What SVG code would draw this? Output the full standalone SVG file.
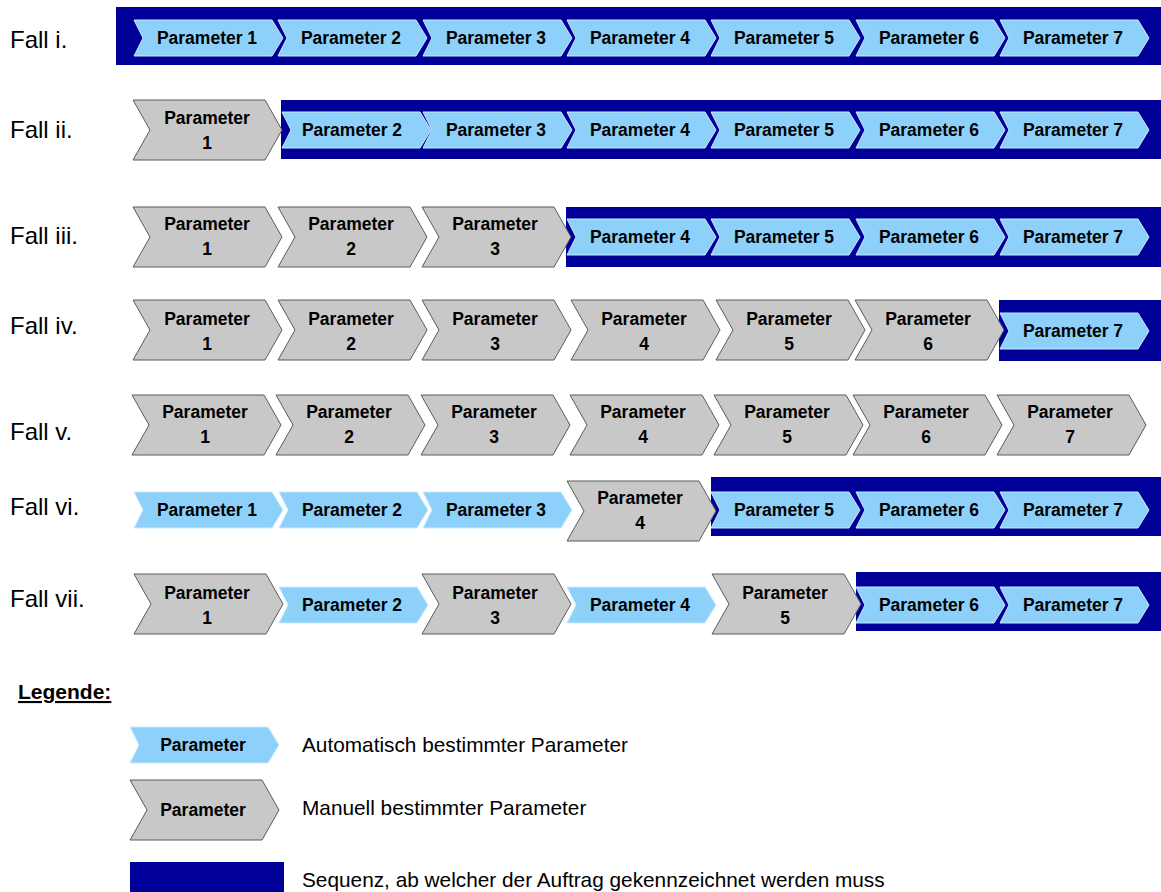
<svg xmlns="http://www.w3.org/2000/svg" xmlns:xlink="http://www.w3.org/1999/xlink" width="1161" height="892" viewBox="0 0 1161 892">
<style>
.bar{fill:#000099}
.cb{fill:#8DD1FA;stroke:#C9EBFF;stroke-width:1}
.cg{fill:#C8C8C8;stroke:#5A5A5A;stroke-width:1}
.t{font-family:"Liberation Sans",Arial,sans-serif;font-weight:bold;font-size:17.5px;fill:#000;text-anchor:middle}
.fall{font-family:"Liberation Sans",Arial,sans-serif;font-size:24px;fill:#000}
.leg{font-family:"Liberation Sans",Arial,sans-serif;font-size:20.8px;fill:#000}
.legh{font-family:"Liberation Sans",Arial,sans-serif;font-size:21px;font-weight:bold;fill:#000;text-decoration:underline}
</style>
<defs>
<path id="pb" d="M0 0 H138 L149 18 L138 36 H0 L9 18 Z"/>
<path id="pg" d="M0 0 H132 L149 30 L132 60 H0 L17 30 Z"/>
</defs>
<rect width="1161" height="892" fill="#fff"/>

<g id="labels">
<text class="fall" x="10" y="48">Fall i.</text>
<text class="fall" x="10" y="138">Fall ii.</text>
<text class="fall" x="10" y="244">Fall iii.</text>
<text class="fall" x="10" y="334">Fall iv.</text>
<text class="fall" x="10" y="440">Fall v.</text>
<text class="fall" x="10" y="515">Fall vi.</text>
<text class="fall" x="10" y="607">Fall vii.</text>
</g>

<g id="bars">
<rect class="bar" x="116" y="7" width="1045" height="58"/>
<rect class="bar" x="281" y="100" width="880" height="59"/>
<rect class="bar" x="566" y="207" width="595" height="60"/>
<rect class="bar" x="999" y="300" width="162" height="61"/>
<rect class="bar" x="711" y="477" width="450" height="59"/>
<rect class="bar" x="856" y="572" width="305" height="59"/>
</g>

<g id="connectors"></g>

<!-- Row i -->
<g id="r1p1"><use href="#pb" class="cb" x="134" y="20"/><text class="t" x="207" y="44">Parameter 1</text></g>
<g id="r1p2"><use href="#pb" class="cb" x="278" y="20"/><text class="t" x="351" y="44">Parameter 2</text></g>
<g id="r1p3"><use href="#pb" class="cb" x="423" y="20"/><text class="t" x="496" y="44">Parameter 3</text></g>
<g id="r1p4"><use href="#pb" class="cb" x="567" y="20"/><text class="t" x="640" y="44">Parameter 4</text></g>
<g id="r1p5"><use href="#pb" class="cb" x="711" y="20"/><text class="t" x="784" y="44">Parameter 5</text></g>
<g id="r1p6"><use href="#pb" class="cb" x="856" y="20"/><text class="t" x="929" y="44">Parameter 6</text></g>
<g id="r1p7"><use href="#pb" class="cb" x="1000" y="20"/><text class="t" x="1073" y="44">Parameter 7</text></g>

<!-- Row ii -->
<g id="r2p1"><use href="#pg" class="cg" x="133" y="100"/><text class="t" x="207" y="124">Parameter</text><text class="t" x="207" y="149">1</text></g>
<g id="r2p2"><use href="#pb" class="cb" x="282" y="112"/><text class="t" x="352" y="136">Parameter 2</text></g>
<g id="r2p3"><use href="#pb" class="cb" x="423" y="112"/><text class="t" x="496" y="136">Parameter 3</text></g>
<g id="r2p4"><use href="#pb" class="cb" x="567" y="112"/><text class="t" x="640" y="136">Parameter 4</text></g>
<g id="r2p5"><use href="#pb" class="cb" x="711" y="112"/><text class="t" x="784" y="136">Parameter 5</text></g>
<g id="r2p6"><use href="#pb" class="cb" x="856" y="112"/><text class="t" x="929" y="136">Parameter 6</text></g>
<g id="r2p7"><use href="#pb" class="cb" x="1000" y="112"/><text class="t" x="1073" y="136">Parameter 7</text></g>

<!-- Row iii -->
<g id="r3p1"><use href="#pg" class="cg" x="133" y="207"/><text class="t" x="207" y="230">Parameter</text><text class="t" x="207" y="255">1</text></g>
<g id="r3p2"><use href="#pg" class="cg" x="278" y="207"/><text class="t" x="351" y="230">Parameter</text><text class="t" x="351" y="255">2</text></g>
<g id="r3p3"><use href="#pg" class="cg" x="422" y="207"/><text class="t" x="495" y="230">Parameter</text><text class="t" x="495" y="255">3</text></g>
<g id="r3p4"><use href="#pb" class="cb" x="567" y="219"/><text class="t" x="640" y="243">Parameter 4</text></g>
<g id="r3p5"><use href="#pb" class="cb" x="711" y="219"/><text class="t" x="784" y="243">Parameter 5</text></g>
<g id="r3p6"><use href="#pb" class="cb" x="856" y="219"/><text class="t" x="929" y="243">Parameter 6</text></g>
<g id="r3p7"><use href="#pb" class="cb" x="1000" y="219"/><text class="t" x="1073" y="243">Parameter 7</text></g>

<!-- Row iv -->
<g id="r4p1"><use href="#pg" class="cg" x="133" y="300"/><text class="t" x="207" y="325">Parameter</text><text class="t" x="207" y="350">1</text></g>
<g id="r4p2"><use href="#pg" class="cg" x="278" y="300"/><text class="t" x="351" y="325">Parameter</text><text class="t" x="351" y="350">2</text></g>
<g id="r4p3"><use href="#pg" class="cg" x="422" y="300"/><text class="t" x="495" y="325">Parameter</text><text class="t" x="495" y="350">3</text></g>
<g id="r4p4"><use href="#pg" class="cg" x="571" y="300"/><text class="t" x="644" y="325">Parameter</text><text class="t" x="644" y="350">4</text></g>
<g id="r4p5"><use href="#pg" class="cg" x="716" y="300"/><text class="t" x="789" y="325">Parameter</text><text class="t" x="789" y="350">5</text></g>
<g id="r4p6"><use href="#pg" class="cg" x="855" y="300"/><text class="t" x="928" y="325">Parameter</text><text class="t" x="928" y="350">6</text></g>
<g id="r4p7"><use href="#pb" class="cb" x="1000" y="313"/><text class="t" x="1073" y="337">Parameter 7</text></g>

<!-- Row v -->
<g id="r5p1"><use href="#pg" class="cg" x="132" y="395"/><text class="t" x="205" y="418">Parameter</text><text class="t" x="205" y="443">1</text></g>
<g id="r5p2"><use href="#pg" class="cg" x="276" y="395"/><text class="t" x="349" y="418">Parameter</text><text class="t" x="349" y="443">2</text></g>
<g id="r5p3"><use href="#pg" class="cg" x="421" y="395"/><text class="t" x="494" y="418">Parameter</text><text class="t" x="494" y="443">3</text></g>
<g id="r5p4"><use href="#pg" class="cg" x="570" y="395"/><text class="t" x="643" y="418">Parameter</text><text class="t" x="643" y="443">4</text></g>
<g id="r5p5"><use href="#pg" class="cg" x="714" y="395"/><text class="t" x="787" y="418">Parameter</text><text class="t" x="787" y="443">5</text></g>
<g id="r5p6"><use href="#pg" class="cg" x="853" y="395"/><text class="t" x="926" y="418">Parameter</text><text class="t" x="926" y="443">6</text></g>
<g id="r5p7"><use href="#pg" class="cg" x="997" y="395"/><text class="t" x="1070" y="418">Parameter</text><text class="t" x="1070" y="443">7</text></g>

<!-- Row vi -->
<g id="r6p1"><use href="#pb" class="cb" x="134" y="492"/><text class="t" x="207" y="516">Parameter 1</text></g>
<g id="r6p2"><use href="#pb" class="cb" x="279" y="492"/><text class="t" x="352" y="516">Parameter 2</text></g>
<g id="r6p3"><use href="#pb" class="cb" x="423" y="492"/><text class="t" x="496" y="516">Parameter 3</text></g>
<g id="r6p4"><use href="#pg" class="cg" x="567" y="481"/><text class="t" x="640" y="504">Parameter</text><text class="t" x="640" y="529">4</text></g>
<g id="r6p5"><use href="#pb" class="cb" x="711" y="492"/><text class="t" x="784" y="516">Parameter 5</text></g>
<g id="r6p6"><use href="#pb" class="cb" x="856" y="492"/><text class="t" x="929" y="516">Parameter 6</text></g>
<g id="r6p7"><use href="#pb" class="cb" x="1000" y="492"/><text class="t" x="1073" y="516">Parameter 7</text></g>

<!-- Row vii -->
<g id="r7p1"><use href="#pg" class="cg" x="134" y="574"/><text class="t" x="207" y="599">Parameter</text><text class="t" x="207" y="624">1</text></g>
<g id="r7p2"><use href="#pb" class="cb" x="279" y="587"/><text class="t" x="352" y="611">Parameter 2</text></g>
<g id="r7p3"><use href="#pg" class="cg" x="422" y="574"/><text class="t" x="495" y="599">Parameter</text><text class="t" x="495" y="624">3</text></g>
<g id="r7p4"><use href="#pb" class="cb" x="567" y="587"/><text class="t" x="640" y="611">Parameter 4</text></g>
<g id="r7p5"><use href="#pg" class="cg" x="712" y="574"/><text class="t" x="785" y="599">Parameter</text><text class="t" x="785" y="624">5</text></g>
<g id="r7p6"><use href="#pb" class="cb" x="856" y="587"/><text class="t" x="929" y="611">Parameter 6</text></g>
<g id="r7p7"><use href="#pb" class="cb" x="1000" y="587"/><text class="t" x="1073" y="611">Parameter 7</text></g>

<!-- Legend -->
<g id="legend">
<text class="legh" x="18" y="699">Legende:</text>
<g id="leg-auto"><use href="#pb" class="cb" x="130" y="727"/><text class="t" x="203" y="751">Parameter</text></g>
<text class="leg" x="302" y="752">Automatisch bestimmter Parameter</text>
<g id="leg-man"><use href="#pg" class="cg" x="130" y="780"/><text class="t" x="203" y="816">Parameter</text></g>
<text class="leg" x="302" y="815">Manuell bestimmter Parameter</text>
<rect id="leg-seq" class="bar" x="130" y="862" width="154" height="30"/>
<text class="leg" x="302" y="887">Sequenz, ab welcher der Auftrag gekennzeichnet werden  muss</text>
</g>
</svg>
